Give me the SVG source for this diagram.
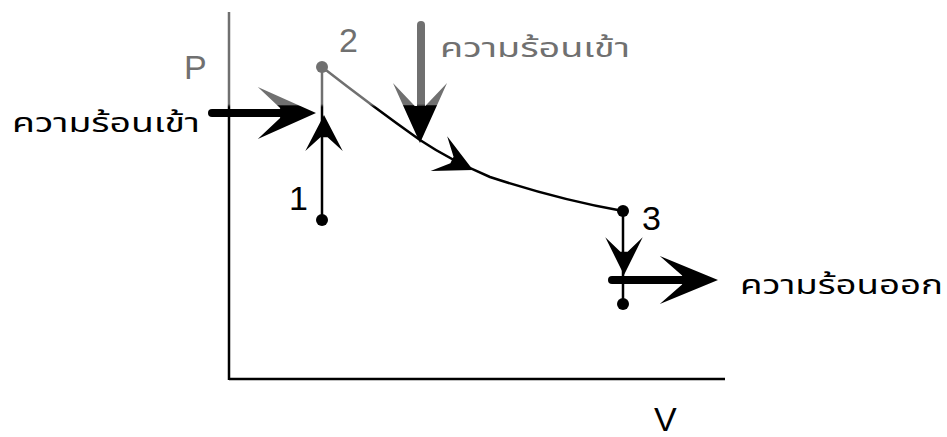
<svg xmlns="http://www.w3.org/2000/svg" width="947" height="437" viewBox="0 0 947 437">
<style>
.lbl{font-family:"Noto Sans Thai","Noto Sans","DejaVu Sans",sans-serif;font-size:26px;fill:#000}
.num{font-family:"Liberation Sans",Arial,sans-serif;font-size:34px;fill:#000}
.gray{fill:#707070}
.ln{fill:none;stroke:url(#shade);stroke-width:2.5}
.shaft{fill:none;stroke:url(#shade);stroke-width:8;stroke-linecap:round}
.hd{fill:#000}
.dot{fill:url(#shade)}
</style>
<defs>
<linearGradient id="shade" gradientUnits="userSpaceOnUse" x1="0" y1="0" x2="0" y2="437">
<stop offset="0" stop-color="#707070"/>
<stop offset="0.238" stop-color="#707070"/>
<stop offset="0.245" stop-color="#000"/>
<stop offset="1" stop-color="#000"/>
</linearGradient>
<linearGradient id="shadeTop" gradientUnits="userSpaceOnUse" x1="-60" y1="0" x2="0" y2="0">
<stop offset="0" stop-color="#707070"/>
<stop offset="0.36" stop-color="#707070"/>
<stop offset="0.38" stop-color="#000"/>
<stop offset="1" stop-color="#000"/>
</linearGradient>
<linearGradient id="shadeLeft" gradientUnits="userSpaceOnUse" x1="0" y1="-25" x2="0" y2="25">
<stop offset="0" stop-color="#707070"/>
<stop offset="0.33" stop-color="#707070"/>
<stop offset="0.36" stop-color="#000"/>
<stop offset="1" stop-color="#000"/>
</linearGradient>
<path id="head" d="M0,0 L-60,-26 L-37,-5 L-37,5 L-60,26 Z"/>
</defs>
<g id="axes">
<line class="ln" x1="229" y1="12" x2="229" y2="380"/>
<line class="ln" x1="229" y1="379" x2="725" y2="379"/>
<text class="num gray" x="184" y="79">P</text>
<text class="num" x="654" y="431" font-size="28">V</text>
</g>
<g id="connectors">
<line class="ln" x1="322" y1="220" x2="322" y2="67"/>
<path class="ln" d="M322,67 Q372,106 420,140 Q450,160 490,177 Q560,200 623,211" stroke-width="2"/>
<line class="ln" x1="623" y1="211" x2="623" y2="304"/>
<use href="#head" class="hd" transform="translate(324,115) rotate(-90) scale(0.6,0.72)"/>
<use href="#head" class="hd" transform="translate(473,170) rotate(25.5) scale(0.63,0.74)"/>
<use href="#head" class="hd" transform="translate(624,275) rotate(90) scale(0.63,0.72)"/>
</g>
<g id="node1">
<circle class="dot" cx="322" cy="220" r="6"/>
<text class="num" x="289" y="210">1</text>
</g>
<g id="node2">
<circle class="dot" cx="322" cy="67" r="6"/>
<text class="num gray" x="339" y="52">2</text>
</g>
<g id="node3">
<circle class="dot" cx="623" cy="211" r="6"/>
<text class="num" x="642" y="230">3</text>
</g>
<g id="node4">
<circle class="dot" cx="623" cy="304" r="6"/>
</g>
<g id="heat-in-left">
<line class="shaft" x1="212" y1="113" x2="285" y2="113"/>
<use href="#head" fill="url(#shadeLeft)" transform="translate(316,113) scale(0.97,1)"/>
<text class="lbl" x="12" y="132" textLength="188" lengthAdjust="spacingAndGlyphs">ความร้อนเข้า</text>
</g>
<g id="heat-in-top">
<line class="shaft" x1="421" y1="25" x2="421" y2="110" stroke-linecap="butt"/>
<use href="#head" fill="url(#shadeTop)" transform="translate(420,143) rotate(90) scale(1,1.04)"/>
<text class="lbl gray" x="440" y="57" textLength="190" lengthAdjust="spacingAndGlyphs">ความร้อนเข้า</text>
</g>
<g id="heat-out">
<line class="shaft" x1="612" y1="280" x2="685" y2="280" stroke-linecap="butt"/>
<use href="#head" class="hd" transform="translate(718,280) scale(0.97,0.92)"/>
<text class="lbl" x="740" y="294" textLength="203" lengthAdjust="spacingAndGlyphs">ความร้อนออก</text>
</g>
</svg>
